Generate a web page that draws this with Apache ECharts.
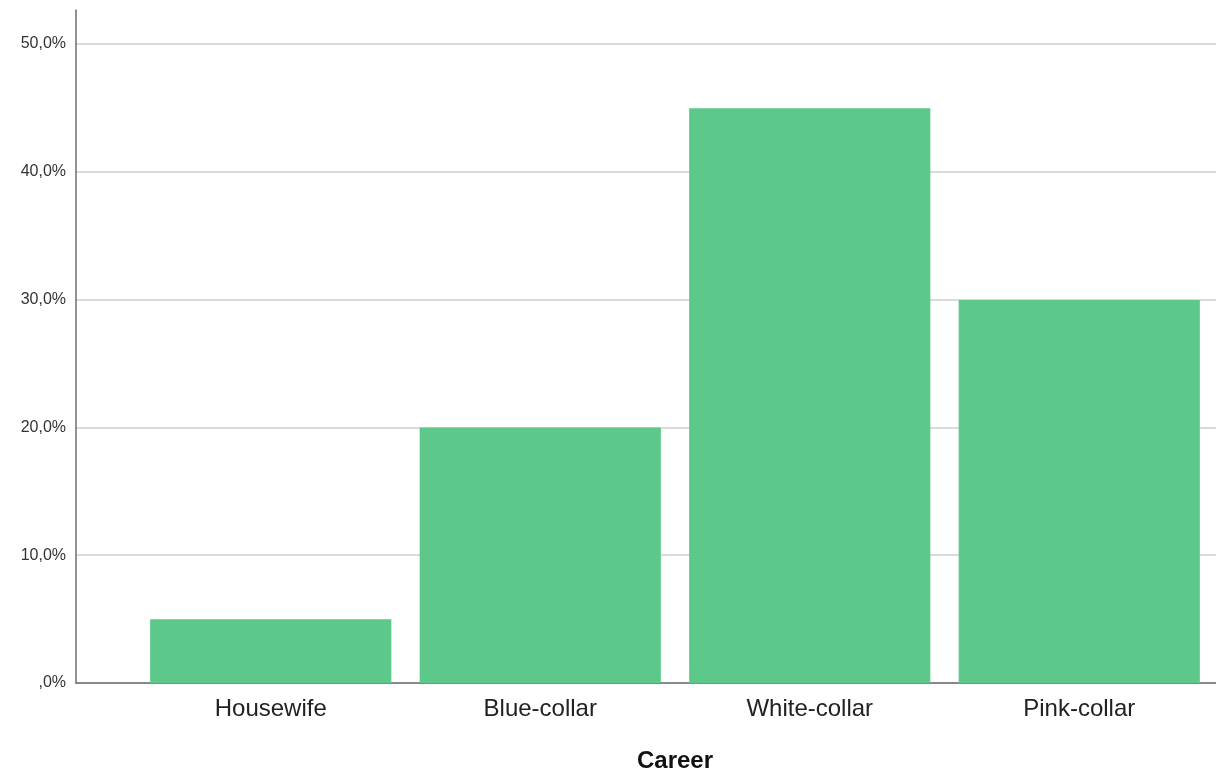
<!DOCTYPE html>
<html>
<head>
<meta charset="utf-8">
<script src="https://cdn.jsdelivr.net/npm/echarts@6/dist/echarts.min.js"></script>
<style>html,body{margin:0;padding:0;background:#fff}#c{width:1216px;height:771px}</style>
</head>
<body>
<div id="c"></div>
<script>
const categories = ["Housewife", "Blue-collar", "White-collar", "Pink-collar"];
const percentValues = [5.0, 20.0, 45.0, 30.0];
const yTicks = [0, 10, 20, 30, 40, 50];
const xTitle = "Career";

function fmtPct(v) {
  if (v === 0) return ",0%";
  return v.toFixed(1).replace(".", ",") + "%";
}

const chart = echarts.init(document.getElementById('c'));
const font = 'Arial, "Liberation Sans", sans-serif';
chart.setOption({
  animation: false,
  backgroundColor: '#ffffff',
  grid: [
    { left: 76, right: 0, top: 44, bottom: 88, outerBoundsMode: 'none', containLabel: false },
    { left: 136, right: 2, top: 10, bottom: 88, outerBoundsMode: 'none', containLabel: false }
  ],
  xAxis: [
    { gridIndex: 0, type: 'category', data: [''], axisLine: { show: true, lineStyle: { color: '#6e6e6e', width: 1.5 } },
      axisTick: { show: false }, axisLabel: { show: false }, splitLine: { show: false } },
    { gridIndex: 1, type: 'category', data: categories,
      axisLine: { show: false }, axisTick: { show: false },
      axisLabel: { color: '#222', fontSize: 24, fontFamily: font, margin: 14 },
      name: xTitle, nameLocation: 'middle', nameGap: 66,
      nameTextStyle: { color: '#111', fontSize: 24, fontWeight: 'bold', fontFamily: font } }
  ],
  yAxis: [
    { gridIndex: 0, type: 'value', min: 0, max: yTicks[yTicks.length - 1], interval: 10,
      axisLine: { show: false },
      axisTick: { show: false },
      axisLabel: { color: '#333', fontSize: 16, fontFamily: font, margin: 10, formatter: fmtPct, padding: [5, 0, 0, 0] },
      splitLine: { show: true, lineStyle: { color: '#cfcfcf', width: 1.5 } } },
    { gridIndex: 1, type: 'value', min: 0, max: 52.7, offset: 60,
      axisLine: { show: true, lineStyle: { color: '#6e6e6e', width: 1.5 } },
      axisTick: { show: false }, axisLabel: { show: false }, splitLine: { show: false } }
  ],
  series: [{
    type: 'bar', xAxisIndex: 1, yAxisIndex: 1,
    data: percentValues,
    barCategoryGap: '10.5%',
    itemStyle: { color: '#5cc98a' }
  }]
});
</script>
</body>
</html>
